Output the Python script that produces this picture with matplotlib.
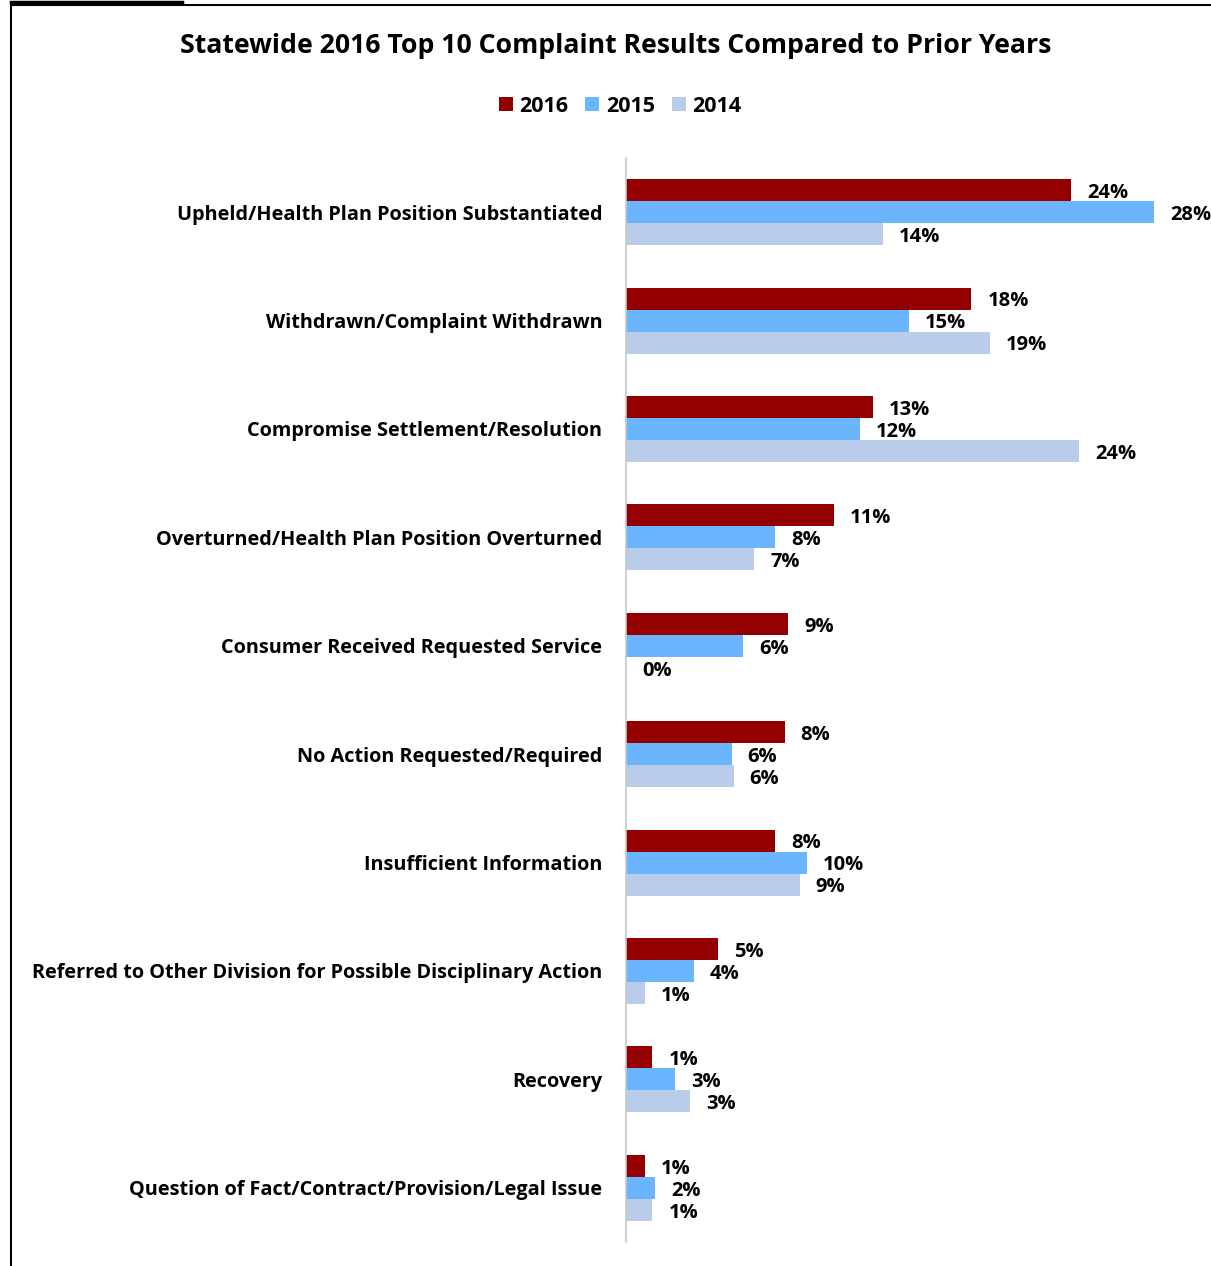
import matplotlib
matplotlib.use("Agg")
import matplotlib.pyplot as plt
from matplotlib.lines import Line2D
import numpy as np

plt.rcParams['font.family'] = ['Open Sans', 'DejaVu Sans']
plt.rcParams['font.weight'] = 'bold'

categories = [
    "Upheld/Health Plan Position Substantiated",
    "Withdrawn/Complaint Withdrawn",
    "Compromise Settlement/Resolution",
    "Overturned/Health Plan Position Overturned",
    "Consumer Received Requested Service",
    "No Action Requested/Required",
    "Insufficient Information",
    "Referred to Other Division for Possible Disciplinary Action",
    "Recovery",
    "Question of Fact/Contract/Provision/Legal Issue",
]
years = ["2016", "2015", "2014"]
pct_2016 = [23.6, 18.3, 13.1, 11.0, 8.6, 8.4, 7.9, 4.9, 1.4, 1.0]
pct_2015 = [28.0, 15.0, 12.4, 7.9, 6.2, 5.6, 9.6, 3.6, 2.6, 1.55]
pct_2014 = [13.6, 19.3, 24.0, 6.8, 0.0, 5.7, 9.2, 1.0, 3.4, 1.4]
colors = ["#940000", "#6bb5ff", "#b9cdea"]

fig = plt.figure(figsize=(12.11, 12.66), dpi=100)
ax = fig.add_axes([626 / 1211, 1 - 1242 / 1266, 1 - 626 / 1211, (1242 - 158) / 1266])

y = np.arange(len(categories))
h = 0.203
for i, (vals, col, yr) in enumerate(zip([pct_2016, pct_2015, pct_2014], colors, years)):
    pos = y + (i - 1) * h
    ax.barh(pos, vals, height=h, color=col, label=yr, edgecolor="none")
    for p, v in zip(pos, vals):
        ax.annotate(f"{v:.0f}%", (v, p), xytext=(11.5, -2), textcoords="offset points",
                    va="center", ha="left", fontsize=14.5, fontweight="bold",
                    annotation_clip=False)

ax.set_xlim(0, 31)
ax.set_ylim(len(categories) - 0.5, -0.5)
ax.set_yticks(y)
ax.set_yticklabels(categories, fontsize=14.3, fontweight="bold")
ax.tick_params(axis="y", length=0, pad=17)
ax.set_xticks([])
for side in ["top", "right", "bottom"]:
    ax.spines[side].set_visible(False)
ax.spines["left"].set_color("#c8c8c8")
ax.spines["left"].set_linewidth(1.2)

fig.text(0.508, 1 - 46 / 1266, "Statewide 2016 Top 10 Complaint Results Compared to Prior Years",
         ha="center", va="center", fontsize=19.2, fontweight="bold")

fig.legend(loc="center", bbox_to_anchor=(0.512, 1 - 106 / 1266), ncol=3, frameon=False,
           prop={"size": 15.5, "weight": "bold"}, handlelength=0.65, handleheight=0.65,
           handletextpad=0.3, columnspacing=0.8)

# page frame around the figure
fig.add_artist(Line2D([11 / 1211, 11 / 1211], [0, 1 - 5 / 1266], color="black", lw=1.5))
fig.add_artist(Line2D([11 / 1211, 1], [1 - 5 / 1266, 1 - 5 / 1266], color="black", lw=1.5))
fig.add_artist(Line2D([11 / 1211, 182 / 1211], [1 - 1.5 / 1266, 1 - 1.5 / 1266], color="black", lw=2.5))

fig.savefig("out.png", dpi=100)
